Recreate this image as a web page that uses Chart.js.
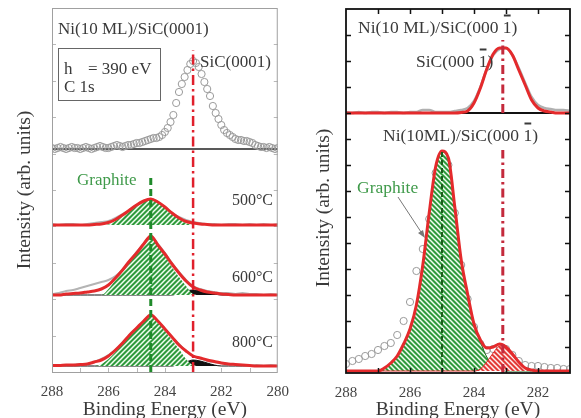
<!DOCTYPE html>
<html><head><meta charset="utf-8">
<script src="https://cdn.jsdelivr.net/npm/chart.js@4.4.1/dist/chart.umd.min.js"></script>
<style>
html,body{margin:0;padding:0;background:#fff;}
#wrap{position:relative;width:581px;height:418px;overflow:hidden;background:#fff;}
#cl{position:absolute;left:0;top:0;}
#cr{position:absolute;left:300px;top:0;}
</style></head><body>
<div id="wrap"><canvas id="cl" width="300" height="418"></canvas><canvas id="cr" width="281" height="418"></canvas></div>
<script>
// ---------------- DATA ----------------
// Binding energies (eV)
const E_FINE = [288.0,287.9,287.8,287.7,287.6,287.5,287.4,287.3,287.2,287.1,287.0,286.9,286.8,286.7,286.6,286.5,286.4,286.3,286.2,286.1,286.0,285.9,285.8,285.7,285.6,285.5,285.4,285.3,285.2,285.1,285.0,284.9,284.8,284.7,284.6,284.5,284.4,284.3,284.2,284.1,284.0,283.9,283.8,283.7,283.6,283.5,283.4,283.3,283.2,283.1,283.0,282.9,282.8,282.7,282.6,282.5,282.4,282.3,282.2,282.1,282.0,281.9,281.8,281.7,281.6,281.5,281.4,281.3,281.2,281.1,281.0,280.9,280.8,280.7,280.6,280.5,280.4,280.3,280.2,280.1,280.0];
const E_LEFT = [288,287.75,287.5,287.25,287,286.75,286.5,286.25,286,285.75,285.5,285.25,285,284.75,284.5,284.25,284,283.75,283.5,283.25,283,282.75,282.5,282.25,282,281.75,281.5,281.25,281,280.75,280.5,280.25,280];
const E_RIGHT = [288,287.8,287.6,287.4,287.2,287.0,286.8,286.6,286.4,286.2,286.0,285.8,285.6,285.4,285.2,285.0,284.8,284.6,284.4,284.2,284.0,283.8,283.6,283.4,283.2,283.0,282.8,282.6,282.4,282.2,282.0,281.8,281.6,281.4,281.2,281.0];

// Tick labels
const X_TICKS_LEFT = [288,286,284,282,280];
const X_TICKS_RIGHT = [288,286,284,282];

// Vertical offsets of the stacked spectra (arb. units)
const BASE_SIC = 223, BASE_500 = 147, BASE_600 = 77, BASE_800 = 6;
const BASE_TOP_R = 260, BASE_BOT_R = 2;

// Left: clean SiC(0001) C 1s data
const sicBulkData = [1,0,1,2,1,0,1,2,1,1, 0,1,2,1,0,1,2,3,2,1, 1,2,3,4,3,2,3,4,4,5, 6,6,7,8,9,10,11,11,12,14, 17,21,27,34,46,57,65,72,79,85, 88,86,82,75,67,60,53,43,36,30, 24,19,16,14,12,10,9,9,8,8, 7,6,4,3,2,2,1,2,1,0,1];

// Left: annealed spectra (fit, graphite component, SiC component, data)
const fit500 = [0,0,0,0,0,0,0.5,1,2.5,5.5,10,15,20,24,26,23,18,12,7,3.5,2,1,0.5,0,0,0,0,0,0,0,0,0,0];
const graphite500 = [0,0,0,0,0,0,0,0,0.5,4,9,14,19,23,25,22,17,11,6,2,0,0,0,0,0,0,0,0,0,0,0,0,0];
const data500 = [1,0,1,1,0,1,2,3,4,7,11,15,20,24,26,23,18,12,8,5,3,2,1,1,0,1,1,0,1,0,1,0,1];

const fit600 = [0,0,1,1.5,2,3,4,6,10,17,25,34,42,51,59,50,41,31,22,14,8,5,3,2,1,0.5,0,0,0,0,0,0,0];
const graphite600 = [0,0,0,0,0,0,0,0,6,15,24,33,41,50,58,49,40,28,18,9,1,0,0,0,0,0,0,0,0,0,0,0,0];
const sic600 = [0,0,0,0,0,0,0,0,0,0,0,0,0,0,0,0,0,0,2,4,5,4,2,1,0,0,0,0,0,0,0,0,0];
const data600 = [1,2,4,5,7,9,11,13,15,19,25,34,43,51,59,51,42,32,23,15,9,6,4,3,2,2,1,2,1,1,0,1,0];

const fit800 = [0.5,0.5,1,1,1.5,2,4,6,10,16,23,31,38,45,51,45,37,29,21,15,10,8,6,4.5,3,2,1.5,1,0.5,0,0,0,0];
const graphite800 = [0,0,0,0,0,0,0,2,7,14,22,30,37,44,50,43,35,26,17,7,1,0,0,0,0,0,0,0,0,0,0,0,0];
const sic800 = [0,0,0,0,0,0,0,0,0,0,0,0,0,0,0,0,0,0,2,4,6,5,3,1,0,0,0,0,0,0,0,0,0];
const data800 = [1,0,1,1,2,2,4,7,11,16,23,31,38,45,51,45,37,29,22,15,10,8,5,4,3,2,1,1,0,1,0,1,0];

// Right: SiC(000-1) reference and Ni(10ML)/SiC(000-1)
const fitTopR = [0,0,0,0,0,0,0,0,0,0,0,0,0,0,0,0,0,0,0.5,2,10,25,44,59,65,65,58,43,28,13,5,2,1,0,0,0];
const dataTopR = [1,0,1,0,1,1,0,1,1,0,1,1,3,3,1,1,1,2,3,5,12,26,44,58,64,65,58,45,30,16,8,5,4,3,3,2];
const graphiteR = [0,0,0,0,0,0,3,8,15,27,42,66,105,157,203,219,212,163,110,76,46,29,14,6,2,0,0,0,0,0,0,0,0,0,0,0];
const sicR = [0,0,0,0,0,0,0,0,0,0,0,0,0,0,0,0,0,0,0,0,0,2,9,18,25,24,17,9,3,1,0,0,0,0,0,0];
const fitBotR = [0,0,0,0,0,0,3,8,15,27,42,66,106,158,204,220,213,164,111,77,47,31,23,24,27,24,17,9,3,1,0,0,0,0,0,0];
const dataBotR = [7,10,12,15,17,21,25,28,36,50,69,100,122,152,198,213,206,158,106,72,44,27,21,22,24,22,16,10,6,5,5,4,3,3,2,2];

// Peak positions (eV)
const SIC_E_LEFT = 283.0, GRAPHITE_E_LEFT = 284.5;
const SIC_E_RIGHT = 283.1, GRAPHITE_E_RIGHT = 285.0;

// ---------------- HELPERS ----------------
const FONT = '"Liberation Serif", "Times New Roman", serif';
const RED = '#e42a2c';
function pts(E, vals, base){ return E.map((e,i)=>({x:e, y:base+vals[i]})); }
function vline(e, y0, y1){ return [{x:e,y:y0},{x:e,y:y1}]; }
function hatch(bg, fg, dir){
  const s=5, c=document.createElement('canvas'); c.width=s; c.height=s;
  const g=c.getContext('2d'); g.fillStyle=bg; g.fillRect(0,0,s,s);
  g.strokeStyle=fg; g.lineWidth=1.5; g.beginPath();
  if(dir>0){ g.moveTo(-1,s+1); g.lineTo(s+1,-1); g.moveTo(-1,1); g.lineTo(1,-1); g.moveTo(s-1,s+1); g.lineTo(s+1,s-1); }
  else { g.moveTo(-1,-1); g.lineTo(s+1,s+1); g.moveTo(s-1,-1); g.lineTo(s+1,1); g.moveTo(-1,s-1); g.lineTo(1,s+1); }
  g.stroke();
  return document.createElement('canvas').getContext('2d').createPattern(c,'repeat');
}
const greenHatchL = hatch('#2f9a3c','#f2fff2',1);
const greenHatchR = hatch('#2f9a3c','#f2fff2',-1);
const redHatchR = hatch('#e33a36','#fff0f0',-1);

function ds(data, o){
  return Object.assign({data, showLine:true, pointRadius:0, borderWidth:2, borderColor:'#000', fill:false,
    cubicInterpolationMode:'monotone'}, o);
}
function drawTicks(chart, xs, ys, color, len, lw, both){
  const {ctx, chartArea:a, scales:{x,y}} = chart;
  ctx.save(); ctx.strokeStyle=color; ctx.lineWidth=lw; ctx.beginPath();
  xs.forEach(v=>{ const p=Math.round(x.getPixelForValue(v))+0.5;
    ctx.moveTo(p,a.bottom); ctx.lineTo(p,a.bottom-len);
    if(both){ ctx.moveTo(p,a.top); ctx.lineTo(p,a.top+len);} });
  ys.forEach(v=>{ const p=Math.round(y.getPixelForValue(v))+0.5;
    ctx.moveTo(a.left,p); ctx.lineTo(a.left+len,p);
    ctx.moveTo(a.right,p); ctx.lineTo(a.right-len,p); });
  ctx.stroke(); ctx.restore();
}
function barText(ctx, pre, ch, post, x, y){
  ctx.textAlign='left'; ctx.textBaseline='middle';
  ctx.fillText(pre+ch+post, x, y);
  const w1=ctx.measureText(pre).width, w2=ctx.measureText(ch).width;
  ctx.save(); ctx.strokeStyle=ctx.fillStyle; ctx.lineWidth=2;
  ctx.beginPath(); ctx.moveTo(x+w1+1, y-12.5); ctx.lineTo(x+w1+w2-1, y-12.5); ctx.stroke(); ctx.restore();
}

// ---------------- LEFT CHART ----------------
const leftDeco = {
  id:'leftDeco',
  beforeDatasetsDraw(chart){
    const xs=[287,286,285,284,283,282,281];
    const ys=[36.4,72.8,109.2,145.6,182,218.4,254.8,291.2,327.6];
    drawTicks(chart, xs, ys, '#b8b8b8', 4, 1, false);
  },
  afterDraw(chart){
    const {ctx, chartArea:a} = chart;
    ctx.save();
    ctx.strokeStyle='#a0a0a0'; ctx.lineWidth=1;
    ctx.strokeRect(a.left+0.5, a.top+0.5, a.right-a.left-1, a.bottom-a.top);
    ctx.fillStyle='#3a3a3a'; ctx.textBaseline='middle'; ctx.textAlign='left';
    ctx.font='17px '+FONT;
    ctx.fillText('Ni(10 ML)/SiC(0001)', 58, 30);
    ctx.fillText('SiC(0001)', 200, 63);
    ctx.fillText('h', 64, 70);
    ctx.fillText('= 390 eV', 88, 70);
    ctx.fillText('C 1s', 64, 88);
    ctx.strokeStyle='#666'; ctx.lineWidth=1; ctx.strokeRect(58.5, 48.5, 102, 52);
    ctx.fillStyle='#3f9a4a'; ctx.fillText('Graphite', 77, 181);
    ctx.fillStyle='#3a3a3a'; ctx.font='16px '+FONT; ctx.textAlign='right';
    ctx.fillText('500°C', 273, 201);
    ctx.fillText('600°C', 273, 278);
    ctx.fillText('800°C', 273, 343);
    ctx.font='19.5px '+FONT; ctx.textAlign='center'; ctx.textBaseline='alphabetic';
    ctx.fillText('Binding Energy (eV)', (a.left+a.right)/2, 415);
    ctx.translate(30, 190); ctx.rotate(-Math.PI/2);
    ctx.fillText('Intensity (arb. units)', 0, 0);
    ctx.restore();
  }
};

new Chart(document.getElementById('cl'), {
  type:'scatter',
  data:{datasets:[
    ds(vline(SIC_E_LEFT, 0, 322), {borderColor:'#e0202c', borderWidth:2.5, borderDash:[10,4,2.5,4], order:0, cubicInterpolationMode:'default'}),
    ds(vline(GRAPHITE_E_LEFT, 0, 195), {borderColor:'#1f8a2a', borderWidth:3, borderDash:[7,4], order:0, cubicInterpolationMode:'default'}),
    ds(pts(E_FINE, sicBulkData, BASE_SIC), {showLine:false, pointRadius:3.6, pointBorderWidth:1, pointBorderColor:'#9a9a9a', pointBackgroundColor:'rgba(0,0,0,0)', order:1}),
    ds([{x:288,y:BASE_SIC},{x:280,y:BASE_SIC}], {borderColor:'#222', borderWidth:1.5, order:2, cubicInterpolationMode:'default'}),
    ds(pts(E_LEFT, fit500, BASE_500), {borderColor:RED, borderWidth:3, order:3}),
    ds(pts(E_LEFT, fit600, BASE_600), {borderColor:RED, borderWidth:3, order:3}),
    ds(pts(E_LEFT, fit800, BASE_800), {borderColor:RED, borderWidth:3, order:3}),
    ds(pts(E_LEFT, data500, BASE_500), {borderColor:'#b4b4b4', borderWidth:2, order:4}),
    ds(pts(E_LEFT, data600, BASE_600), {borderColor:'#b4b4b4', borderWidth:2, order:4}),
    ds(pts(E_LEFT, data800, BASE_800), {borderColor:'#b4b4b4', borderWidth:2, order:4}),
    ds(pts(E_LEFT, graphite500, BASE_500), {borderColor:'rgba(0,0,0,0)', borderWidth:0, fill:{value:BASE_500}, backgroundColor:greenHatchL, order:5}),
    ds(pts(E_LEFT, graphite600, BASE_600), {borderColor:'rgba(0,0,0,0)', borderWidth:0, fill:{value:BASE_600}, backgroundColor:greenHatchL, order:5}),
    ds(pts(E_LEFT, graphite800, BASE_800), {borderColor:'rgba(0,0,0,0)', borderWidth:0, fill:{value:BASE_800}, backgroundColor:greenHatchL, order:5}),
    ds(pts(E_LEFT, sic600, BASE_600), {borderColor:'#111', borderWidth:1, fill:{value:BASE_600}, backgroundColor:'#111', order:6}),
    ds(pts(E_LEFT, sic800, BASE_800), {borderColor:'#111', borderWidth:1, fill:{value:BASE_800}, backgroundColor:'#111', order:6})
  ]},
  options:{
    responsive:false, animation:false, devicePixelRatio:1, events:[],
    layout:{padding:{left:52, right:19, top:8, bottom:0}},
    plugins:{legend:{display:false}, tooltip:{enabled:false}},
    scales:{
      x:{type:'linear', min:280, max:288, reverse:true,
        grid:{display:false, drawTicks:false}, border:{display:false},
        ticks:{stepSize:1, autoSkip:false, maxRotation:0, padding:11, color:'#444',
          font:{family:FONT, size:15}, callback:v=>X_TICKS_LEFT.includes(v)?String(v):''},
        afterFit:s=>{s.height=46;}},
      y:{type:'linear', min:0, max:364, display:false}
    }
  },
  plugins:[leftDeco]
});

// ---------------- RIGHT CHART ----------------
const rightDeco = {
  id:'rightDeco',
  afterDraw(chart){
    const {ctx, chartArea:a} = chart;
    const xs=[287,286,285,284,283,282];
    const ys=[]; for(let k=1;k<14;k++) ys.push(26*k);
    drawTicks(chart, xs, ys, '#111', 5, 1.5, true);
    ctx.save();
    ctx.strokeStyle='#111'; ctx.lineWidth=1.8;
    ctx.strokeRect(a.left, a.top, a.right-a.left, a.bottom-a.top);
    ctx.fillStyle='#3a3a3a'; ctx.font='17.5px '+FONT;
    barText(ctx, 'Ni(10 ML)/SiC(000 ', '1', ')', 58, 28);
    barText(ctx, 'SiC(000 ', '1', ')', 116, 62);
    barText(ctx, 'Ni(10ML)/SiC(000 ', '1', ')', 83, 136);
    ctx.fillStyle='#3f9a4a'; ctx.textAlign='left';
    ctx.fillText('Graphite', 57, 188);
    // arrow
    ctx.strokeStyle='#777'; ctx.fillStyle='#777'; ctx.lineWidth=1;
    ctx.beginPath(); ctx.moveTo(98,197); ctx.lineTo(123,235); ctx.stroke();
    ctx.beginPath(); ctx.moveTo(125,238); ctx.lineTo(118,233); ctx.lineTo(123,230); ctx.closePath(); ctx.fill();
    ctx.fillStyle='#3a3a3a'; ctx.font='19.5px '+FONT; ctx.textAlign='center'; ctx.textBaseline='alphabetic';
    ctx.fillText('Binding Energy (eV)', (a.left+a.right)/2, 415);
    ctx.translate(29, 208); ctx.rotate(-Math.PI/2);
    ctx.fillText('Intensity (arb. units)', 0, 0);
    ctx.restore();
  }
};

new Chart(document.getElementById('cr'), {
  type:'scatter',
  data:{datasets:[
    ds(vline(SIC_E_RIGHT, BASE_TOP_R, 333), {borderColor:'#c42a3c', borderWidth:3, borderDash:[9,4,2.5,4], order:0, cubicInterpolationMode:'default'}),
    ds(vline(SIC_E_RIGHT, 0, 223), {borderColor:'#c42a3c', borderWidth:3, borderDash:[9,4,2.5,4], order:0, cubicInterpolationMode:'default'}),
    ds(vline(GRAPHITE_E_RIGHT, 0, 221), {borderColor:'#1c5e1c', borderWidth:2, borderDash:[5,3], order:0, cubicInterpolationMode:'default'}),
    ds(pts(E_RIGHT, fitTopR, BASE_TOP_R), {borderColor:RED, borderWidth:3, order:3}),
    ds(pts(E_RIGHT, fitBotR, BASE_BOT_R), {borderColor:RED, borderWidth:3, order:3}),
    ds(pts(E_RIGHT, dataTopR, BASE_TOP_R), {borderColor:'#b0b0b0', borderWidth:2.5, order:4}),
    ds([{x:288,y:BASE_TOP_R},{x:281,y:BASE_TOP_R}], {borderColor:'#111', borderWidth:2, order:4.5, cubicInterpolationMode:'default'}),
    ds(pts(E_RIGHT, sicR, BASE_BOT_R), {borderColor:'#e02828', borderWidth:1, fill:{value:BASE_BOT_R}, backgroundColor:redHatchR, order:5}),
    ds(pts(E_RIGHT, graphiteR, BASE_BOT_R), {borderColor:'#1f6a1f', borderWidth:1, fill:{value:BASE_BOT_R}, backgroundColor:greenHatchR, order:6}),
    ds(pts(E_RIGHT, dataBotR, BASE_BOT_R), {showLine:false, pointRadius:3.6, pointBorderWidth:1, pointBorderColor:'#9a9a9a', pointBackgroundColor:'rgba(0,0,0,0)', order:7})
  ]},
  options:{
    responsive:false, animation:false, devicePixelRatio:1, events:[],
    layout:{padding:{left:46, right:4, top:9, bottom:0}},
    plugins:{legend:{display:false}, tooltip:{enabled:false}},
    scales:{
      x:{type:'linear', min:281, max:288, reverse:true,
        grid:{display:false, drawTicks:false}, border:{display:false},
        ticks:{stepSize:1, autoSkip:false, maxRotation:0, padding:11, color:'#444',
          font:{family:FONT, size:15}, callback:v=>X_TICKS_RIGHT.includes(v)?String(v):''},
        afterFit:s=>{s.height=45;}},
      y:{type:'linear', min:0, max:364, display:false}
    }
  },
  plugins:[rightDeco]
});
</script></body></html>
